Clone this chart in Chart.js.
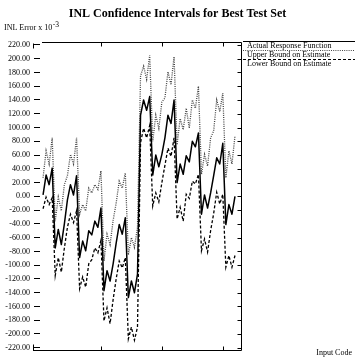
<!DOCTYPE html>
<html>
<head>
<meta charset="utf-8">
<script src="https://cdn.jsdelivr.net/npm/chart.js@4.4.1/dist/chart.umd.min.js"></script>
<style>
  html, body { margin: 0; padding: 0; background: #fff; }
  #wrap { width: 355px; height: 360px; }
</style>
</head>
<body>
<div id="wrap"><canvas id="inl" width="355" height="360"></canvas></div>
<script>
// Input codes along the horizontal axis
const inputCodes = [1, 2, 3, 4, 5, 6, 7, 8, 9, 10, 11, 12, 13, 14, 15, 16,
  17, 18, 19, 20, 21, 22, 23, 24, 25, 26, 27, 28, 29, 30, 31, 32,
  33, 34, 35, 36, 37, 38, 39, 40, 41, 42, 43, 44, 45, 46, 47, 48,
  49, 50, 51, 52, 53, 54, 55, 56, 57, 58, 59, 60, 61, 62, 63, 64];

// INL error (x 10^-3) per input code
const actualResponse = [2, 31, 17, 41, -75, -48, -70, -40, -5, 17, 2, 30, -89, -65, -79, -50,
  -56, -36, -45, -17, -137, -108, -123, -98, -68, -41, -55, -31, -147, -123, -140, -113,
  118, 140, 125, 145, 31, 60, 43, 61, 85, 118, 106, 140, 20, 47, 32, 59,
  50, 80, 72, 92, -26, 2, -17, 5, 30, 56, 47, 77, -41, -12, -26, 0];

const upperBound = [27, 66, 47, 85, -36, -1, -21, 17, 30, 61, 47, 85, -26, -12, -21, 12,
  5, 17, 10, 37, -94, -55, -70, -35, -10, 22, 12, 34, -85, -60, -74, -45,
  175, 189, 170, 205, 80, 118, 99, 137, 143, 181, 162, 203, 75, 113, 97, 128,
  99, 140, 128, 160, 32, 61, 44, 85, 95, 140, 123, 150, 27, 66, 47, 88];

const lowerBound = [-18, -1, -12, -2, -115, -89, -110, -75, -45, -26, -38, -21, -134, -117, -132, -98,
  -92, -75, -82, -64, -181, -162, -185, -150, -120, -94, -104, -89, -207, -190, -209, -190,
  78, 99, 85, 103, -14, 5, -8, 20, 45, 70, 58, 85, -33, -16, -36, 3,
  -3, 22, 18, 32, -79, -62, -81, -50, -25, 6, -11, 3, -103, -86, -103, -86];

const seriesNames = ['Actual Response Function', 'Upper Bound on Estimate', 'Lower Bound on Estimate'];
const yTickValues = [220, 200, 180, 160, 140, 120, 100, 80, 60, 40, 20, 0,
  -20, -40, -60, -80, -100, -120, -140, -160, -180, -200, -220];
const xTickValues = [20, 40, 60];

const SERIF = "'Liberation Serif', 'Times New Roman', serif";

function points(values) {
  return inputCodes.map((code, k) => ({ x: code, y: values[k] }));
}

// Frame: top/bottom rules, right edge, inward ticks, captions and legend column
const framePlugin = {
  id: 'frame',
  afterDraw(chart) {
    const { ctx, chartArea: a, scales: { x, y } } = chart;
    const top = Math.round(a.top) + 0.5;
    const bottom = Math.round(a.bottom) - 0.5;
    const right = Math.round(a.right) - 0.5;
    ctx.save();
    ctx.strokeStyle = '#000';
    ctx.lineWidth = 1;
    ctx.beginPath();
    ctx.moveTo(a.left + 2, top); ctx.lineTo(right, top);
    ctx.moveTo(33, bottom); ctx.lineTo(right, bottom);
    ctx.moveTo(right, top); ctx.lineTo(right, bottom);
    // short end marks on the left
    ctx.moveTo(33.5, top + 1); ctx.lineTo(33.5, top + 6);
    ctx.moveTo(33.5, bottom - 6); ctx.lineTo(33.5, bottom);
    // right-hand ticks pointing inward
    y.ticks.forEach(t => {
      const py = Math.round(y.getPixelForValue(t.value)) + 0.5;
      ctx.moveTo(right - 4, py); ctx.lineTo(right, py);
    });
    // top and bottom ticks
    xTickValues.forEach(v => {
      const px = Math.round(x.getPixelForValue(v)) + 0.5;
      ctx.moveTo(px, top); ctx.lineTo(px, top + 4);
      ctx.moveTo(px, bottom); ctx.lineTo(px, bottom - 4);
    });
    ctx.stroke();

    // axis captions
    ctx.fillStyle = '#000';
    ctx.textBaseline = 'alphabetic';
    ctx.textAlign = 'left';
    ctx.font = '8px ' + SERIF;
    const base = 'INL Error x 10';
    ctx.fillText(base, 4, 30);
    const w = ctx.measureText(base).width;
    ctx.font = '7.5px ' + SERIF;
    ctx.fillText('-3', 4 + w + 0.5, 26.5);
    ctx.font = '8px ' + SERIF;
    ctx.textAlign = 'right';
    ctx.fillText('Input Code', 352, 355);

    // legend column: each line sample sits above its caption
    const rows = [41.5, 50.5, 59.5];
    chart.data.datasets.forEach((ds, k) => {
      ctx.save();
      ctx.strokeStyle = ds.borderColor;
      ctx.lineWidth = 1;
      ctx.setLineDash(ds.borderDash || []);
      ctx.beginPath();
      ctx.moveTo(243, rows[k]); ctx.lineTo(355, rows[k]);
      ctx.stroke();
      ctx.restore();
      ctx.textAlign = 'left';
      ctx.textBaseline = 'middle';
      ctx.font = '8px ' + SERIF;
      ctx.fillText(ds.label, 247, rows[k] + 4.5);
    });
    ctx.restore();
  }
};

new Chart(document.getElementById('inl'), {
  type: 'line',
  data: {
    datasets: [
      {
        label: seriesNames[0],
        data: points(actualResponse),
        borderColor: '#000',
        borderWidth: 1.5,
        borderJoinStyle: 'round',
        pointRadius: 0,
        tension: 0
      },
      {
        label: seriesNames[1],
        data: points(upperBound),
        borderColor: '#444',
        borderWidth: 1.3,
        borderDash: [1, 1.2],
        pointRadius: 0,
        tension: 0
      },
      {
        label: seriesNames[2],
        data: points(lowerBound),
        borderColor: '#000',
        borderWidth: 1.3,
        borderDash: [3, 2],
        pointRadius: 0,
        tension: 0
      }
    ]
  },
  options: {
    responsive: false,
    devicePixelRatio: 1,
    animation: false,
    events: [],
    layout: { padding: { top: 0, right: 0, bottom: 7, left: 0 } },
    plugins: {
      legend: { display: false },
      tooltip: { enabled: false },
      title: {
        display: true,
        text: 'INL Confidence Intervals for Best Test Set',
        color: '#000',
        font: { family: SERIF, size: 12, weight: 'bold', lineHeight: 1.2 },
        padding: { top: 7, bottom: 20.1 }
      }
    },
    scales: {
      x: {
        type: 'linear',
        display: false,
        min: 0,
        max: 66.3
      },
      y: {
        type: 'linear',
        position: 'left',
        min: -225,
        max: 225,
        afterFit(scale) { scale.width = 40; },
        afterBuildTicks(scale) { scale.ticks = yTickValues.map(v => ({ value: v })); },
        border: { display: false },
        grid: {
          drawOnChartArea: false,
          drawTicks: true,
          tickLength: 6,
          color: '#000',
          lineWidth: 1
        },
        ticks: {
          color: '#000',
          padding: 4,
          font: { family: SERIF, size: 8 },
          callback: v => Number(v).toFixed(2)
        }
      },
      // empty right-hand column that holds the legend
      legendColumn: {
        type: 'linear',
        position: 'right',
        display: true,
        afterFit(scale) { scale.width = 113; },
        border: { display: false },
        grid: { display: false },
        ticks: { display: false }
      }
    }
  },
  plugins: [framePlugin]
});
</script>
</body>
</html>
